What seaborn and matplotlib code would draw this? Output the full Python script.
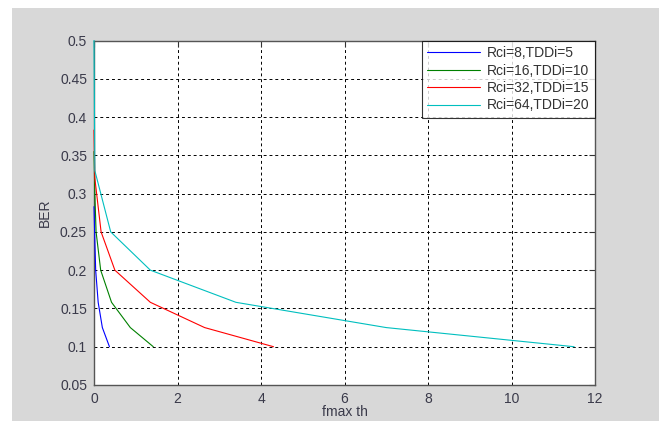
import pandas as pd
import matplotlib.pyplot as plt
import matplotlib.patches as mpatches
import seaborn as sns

# values
labels = ['Rci=8,TDDi=5', 'Rci=16,TDDi=10', 'Rci=32,TDDi=15', 'Rci=64,TDDi=20']
colors = ['#0000ff', '#008000', '#ff0000', '#00bfbf']

fmax_8 = [0.0, 0.015, 0.04, 0.1, 0.2, 0.37]
ber_8 = [0.283, 0.25, 0.2, 0.158, 0.125, 0.1]

fmax_16 = [0.0, 0.02, 0.05, 0.16, 0.42, 0.87, 1.42]
ber_16 = [0.355, 0.3, 0.25, 0.2, 0.158, 0.125, 0.1]

fmax_32 = [0.0, 0.02, 0.17, 0.5, 1.35, 2.65, 4.3]
ber_32 = [0.383, 0.32, 0.25, 0.2, 0.158, 0.125, 0.1]

fmax_64 = [0.0, 0.02, 0.4, 1.35, 3.4, 7.0, 11.5]
ber_64 = [0.5, 0.33, 0.25, 0.2, 0.158, 0.125, 0.1]

xs = [fmax_8, fmax_16, fmax_32, fmax_64]
ys = [ber_8, ber_16, ber_32, ber_64]

sns.set_style('white')
plt.rcParams['font.family'] = ['Liberation Sans', 'DejaVu Sans']

fig = plt.figure(figsize=(6.59, 4.21), dpi=100)
fig.patch.set_facecolor('white')
# grey window background
fig.patches.append(mpatches.Rectangle((12 / 659, 0), 1, 1 - 8 / 421,
                                      transform=fig.transFigure,
                                      facecolor='#d8d8d8', edgecolor='none', zorder=-10))

ax = fig.add_axes([94 / 659, 1 - 385 / 421, (595 - 94) / 659, (385 - 40.5) / 421])
ax.set_facecolor('white')

for x, y, lab, c in zip(xs, ys, labels, colors):
    df = pd.DataFrame({'fmax': x, 'BER': y})
    sns.lineplot(data=df, x='fmax', y='BER', sort=False, estimator=None,
                 color=c, linewidth=0.8, label=lab, ax=ax)

# draw the curves over the left spine like the original
for ln in ax.get_lines():
    ln.set_zorder(3)
    ln.set_clip_on(False)

ax.set_xlim(0, 12)
ax.set_ylim(0.05, 0.5)
ax.set_xticks(range(0, 13, 2))
ax.set_yticks([0.05, 0.1, 0.15, 0.2, 0.25, 0.3, 0.35, 0.4, 0.45, 0.5])
ax.set_yticklabels(['0.05', '0.1', '0.15', '0.2', '0.25', '0.3', '0.35', '0.4', '0.45', '0.5'])
ax.grid(True, color='black', linestyle=(0, (3, 3)), linewidth=0.7)
ax.tick_params(direction='in', length=4, top=True, right=True, labelsize=10,
               colors='#333333', labelcolor='#3a3a4a', pad=5)
for s in ax.spines.values():
    s.set_color('#555555')
    s.set_linewidth(1.0)

ax.set_xlabel('fmax th', fontsize=10, color='#3a3a4a', labelpad=-1)
ax.set_ylabel('BER', fontsize=10, color='#3a3a4a', labelpad=6)

leg = ax.legend(loc='upper right', fontsize=10, frameon=True, fancybox=False,
                borderaxespad=0, handlelength=3.8, labelspacing=0.25,
                borderpad=0.4, handletextpad=0.5)
leg.get_frame().set_edgecolor('black')
leg.get_frame().set_linewidth(0.8)
for t in leg.get_texts():
    t.set_color('#333333')

fig.savefig('out.png', dpi=100)
